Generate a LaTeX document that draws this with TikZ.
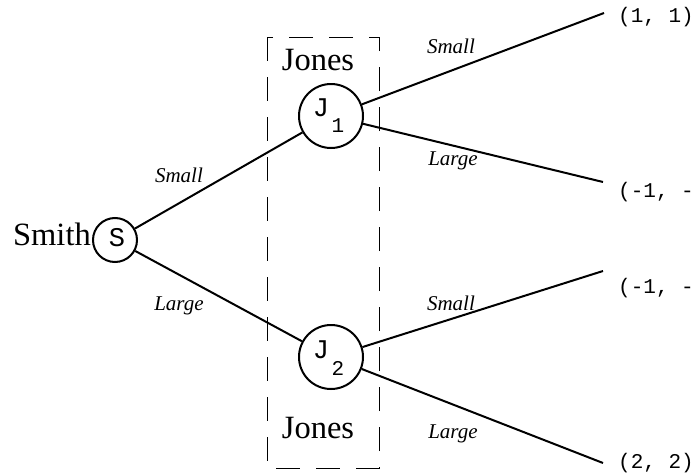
\documentclass[tikz,border=0pt]{standalone}
\usepackage{fontspec}
\setmainfont{Liberation Serif}
\setmonofont{Liberation Mono}
\begin{document}
\begin{tikzpicture}[x=1pt,y=-1pt,
  move/.style={circle,draw,line width=2pt,inner sep=0pt},
  branch/.style={line width=2pt},
  act/.style={font=\fontsize{21}{24}\selectfont\itshape,inner sep=0pt,anchor=base},
  pay/.style={font=\fontsize{21}{24}\selectfont\ttfamily,inner sep=0pt,anchor=base west},
  player/.style={font=\fontsize{32.5}{36}\selectfont,inner sep=0pt,anchor=base},
  mono/.style={font=\fontsize{27}{30}\selectfont\ttfamily,inner sep=0pt},
  submono/.style={font=\fontsize{21}{24}\selectfont\ttfamily,inner sep=0pt}]
\useasboundingbox (0,0) rectangle (697,474);

% information set of the second mover
\draw[line width=0.7pt,dash pattern=on 24pt off 16pt] (267,37) rectangle (379,468);
\node[player] (jtop) at (318,70) {Jones};
\node[player] (jbot) at (318,438) {Jones};

% decision nodes
\node[move,minimum size=44pt] (s) at (115,240) {};
\node[mono] (slab) at (117,238) {S};
\node[player,anchor=base east] (smith) at (91,245) {Smith};

\node[move,minimum size=64pt] (j1) at (331,116) {};
\node[mono] (j1lab) at (321,108) {J};
\node[submono] (j1sub) at (338,126) {1};

\node[move,minimum size=64pt] (j2) at (331,357) {};
\node[mono] (j2lab) at (321,350) {J};
\node[submono] (j2sub) at (338,368) {2};

% terminal points and payoffs
\coordinate (e1) at (604,13);
\coordinate (e2) at (603,182);
\coordinate (e3) at (603,271);
\coordinate (e4) at (603,463);
\node[pay] (p1) at (618,22) {(1, 1)};
\node[pay] (p2) at (618,197) {(-1, -};
\node[pay] (p3) at (618,293) {(-1, -};
\node[pay] (p4) at (618,468) {(2, 2)};

% branches
\draw[branch] (s) -- (j1);
\draw[branch] (s) -- (j2);
\draw[branch] (j1) -- (e1);
\draw[branch] (j1) -- (e2);
\draw[branch] (j2) -- (e3);
\draw[branch] (j2) -- (e4);

% action labels
\node[act] (a1) at (179,182) {Small};
\node[act] (a2) at (179,310) {Large};
\node[act] (a3) at (451,53) {Small};
\node[act] (a4) at (453,165) {Large};
\node[act] (a5) at (451,310) {Small};
\node[act] (a6) at (453,438) {Large};
\end{tikzpicture}
\end{document}
